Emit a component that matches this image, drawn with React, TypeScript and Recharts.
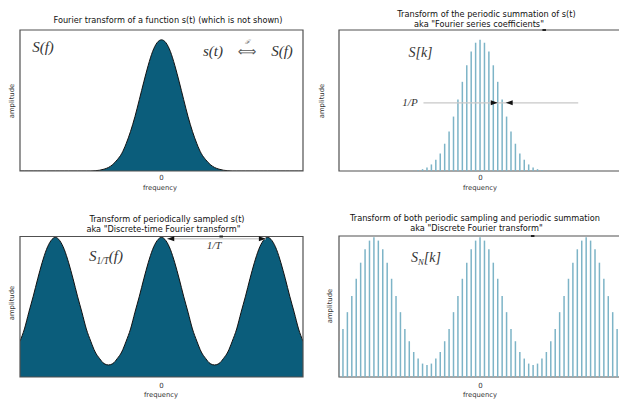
import React from 'react'
import {
  ComposedChart,
  Area,
  Bar,
  XAxis,
  YAxis,
  ReferenceArea,
  ReferenceLine,
  ReferenceDot,
} from 'recharts'

// frequency bins (same grid for all four panels)
const freqBins = [
  -32, -31, -30, -29, -28, -27, -26, -25, -24, -23, -22, -21, -20, -19, -18, -17,
  -16, -15, -14, -13, -12, -11, -10, -9, -8, -7, -6, -5, -4, -3, -2, -1, 0, 1, 2,
  3, 4, 5, 6, 7, 8, 9, 10, 11, 12, 13, 14, 15, 16, 17, 18, 19, 20, 21, 22, 23, 24,
  25, 26, 27, 28, 29, 30, 31, 32,
]

// S(f) / S[k] amplitudes
const gaussAmp = [
  0, 0, 0, 0, 0, 0, 0, 0, 0, 0, 0, 0, 0, 0, 0, 0, 0, 0.002, 0.006, 0.014, 0.027,
  0.05, 0.086, 0.133, 0.208, 0.302, 0.415, 0.546, 0.68, 0.806, 0.912, 0.978, 1,
  0.978, 0.912, 0.806, 0.68, 0.546, 0.415, 0.302, 0.208, 0.133, 0.086, 0.05, 0.027,
  0.014, 0.006, 0.002, 0, 0, 0, 0, 0, 0, 0, 0, 0, 0, 0, 0, 0, 0, 0, 0, 0,
]

// S_1/T(f) / S_N[k] amplitudes
const periodicAmp = [
  0.256, 0.344, 0.464, 0.579, 0.703, 0.818, 0.914, 0.976, 1, 0.976, 0.914, 0.818,
  0.703, 0.579, 0.464, 0.344, 0.256, 0.179, 0.132, 0.096, 0.086, 0.096, 0.132,
  0.179, 0.256, 0.344, 0.464, 0.579, 0.703, 0.818, 0.914, 0.976, 1, 0.976, 0.914,
  0.818, 0.703, 0.579, 0.464, 0.344, 0.256, 0.179, 0.132, 0.096, 0.086, 0.096,
  0.132, 0.179, 0.256, 0.344, 0.464, 0.579, 0.703, 0.818, 0.914, 0.976, 1, 0.976,
  0.914, 0.818, 0.703, 0.579, 0.464, 0.344, 0.256,
]

const axisTicks = [0]
const DOMAIN: [number, number] = [-32, 32]

const FILL = '#0b5d7b'
const STEM = '#7db4c7'
const FRAME = '#505050'
const SANS = '"DejaVu Sans", sans-serif'
const SERIF = '"Liberation Serif", serif'

const gaussRows = freqBins.map((f, i) => ({ f, a: gaussAmp[i] }))
const periodicRows = freqBins.map((f, i) => ({ f, a: periodicAmp[i] }))

const arrowHead = (dir: 'left' | 'right') => (props: any) => {
  const { cx, cy } = props
  const back = dir === 'right' ? cx - 7 : cx + 7
  return (
    <polygon
      points={`${cx},${cy} ${back},${cy - 2.5} ${back},${cy + 2.5}`}
      fill="#111"
    />
  )
}

interface PanelProps {
  left: number
  top: number
  width: number
  height: number
  margin: { top: number; right: number; bottom: number; left: number }
  axisHeight: number
  tickGap: number
  ymax: number
  data: { f: number; a: number }[]
  children?: React.ReactNode
}

function Panel({ left, top, width, height, margin, axisHeight, tickGap, ymax, data, children }: PanelProps) {
  return (
    <div style={{ position: 'absolute', left, top }}>
      <ComposedChart width={width} height={height} data={data} margin={margin}>
        <XAxis
          dataKey="f"
          type="number"
          domain={DOMAIN}
          ticks={axisTicks}
          allowDataOverflow
          tickLine={false}
          axisLine={false}
          tickSize={tickGap}
          tickMargin={2}
          height={axisHeight}
          tick={{ fontSize: 7, fill: '#333', fontFamily: SANS }}
        />
        <XAxis
          xAxisId="top"
          orientation="top"
          dataKey="f"
          type="number"
          domain={DOMAIN}
          ticks={axisTicks}
          allowDataOverflow
          tick={false}
          axisLine={false}
          tickSize={3}
          height={0}
          stroke="#333"
        />
        <YAxis hide domain={[0, ymax]} allowDataOverflow />
        {children}
        <ReferenceArea
          x1={-32}
          x2={32}
          y1={0}
          y2={ymax}
          fill="none"
          fillOpacity={0}
          stroke={FRAME}
          strokeWidth={1.2}
          ifOverflow="visible"
        />
      </ComposedChart>
    </div>
  )
}

function Txt({
  x,
  y,
  size,
  family = SANS,
  italic = false,
  color = '#111',
  rotate = false,
  children,
}: {
  x: number
  y: number
  size: number
  family?: string
  italic?: boolean
  color?: string
  rotate?: boolean
  children: React.ReactNode
}) {
  return (
    <div
      style={{
        position: 'absolute',
        left: x,
        top: y,
        transform: `translate(-50%, -50%)${rotate ? ' rotate(-90deg)' : ''}`,
        fontSize: size,
        fontFamily: family,
        fontStyle: italic ? 'italic' : 'normal',
        color,
        whiteSpace: 'nowrap',
        lineHeight: 1,
      }}
    >
      {children}
    </div>
  )
}

const sub = { fontSize: '0.62em', verticalAlign: '-0.3em' }

export default function App() {
  return (
    <div
      style={{
        position: 'fixed',
        left: 0,
        top: 0,
        width: 619,
        height: 403,
        overflow: 'hidden',
        background: '#fff',
      }}
    >
      {/* top left: continuous transform */}
      <Panel
        left={0}
        top={0}
        width={310}
        height={200}
        margin={{ top: 30, right: 7, bottom: 0, left: 20 }}
        axisHeight={29}
        tickGap={2}
        ymax={1.075}
        data={gaussRows}
      >
        <Area
          type="monotone"
          dataKey="a"
          stroke="#111"
          strokeWidth={1}
          fill={FILL}
          fillOpacity={1}
          isAnimationActive={false}
        />
      </Panel>

      {/* top right: Fourier series coefficients */}
      <Panel
        left={310}
        top={0}
        width={312}
        height={200}
        margin={{ top: 30, right: 0, bottom: 0, left: 29 }}
        axisHeight={29}
        tickGap={2}
        ymax={1.075}
        data={gaussRows}
      >
        <Bar dataKey="a" fill={STEM} barSize={1.5} isAnimationActive={false} />
        <ReferenceLine
          segment={[{ x: -12.9, y: 0.52 }, { x: 22.1, y: 0.52 }]}
          stroke="#c8c8c8"
          strokeWidth={1.3}
          ifOverflow="visible"
        />
        <ReferenceDot x={3.9} y={0.52} shape={arrowHead('right')} ifOverflow="visible" />
        <ReferenceDot x={5.7} y={0.52} shape={arrowHead('left')} ifOverflow="visible" />
        <ReferenceLine
          segment={[{ x: 14, y: 1.075 }, { x: 14.8, y: 1.075 }]}
          stroke="#222"
          strokeWidth={2}
          ifOverflow="visible"
        />
      </Panel>

      {/* bottom left: DTFT */}
      <Panel
        left={0}
        top={200}
        width={310}
        height={203}
        margin={{ top: 36.5, right: 7, bottom: 0, left: 20 }}
        axisHeight={26}
        tickGap={4}
        ymax={1.006}
        data={periodicRows}
      >
        <Area
          type="monotone"
          dataKey="a"
          stroke="#111"
          strokeWidth={1}
          fill={FILL}
          fillOpacity={1}
          isAnimationActive={false}
        />
        <ReferenceLine
          segment={[{ x: 1.3, y: 0.99 }, { x: 23.6, y: 0.99 }]}
          stroke="#d0d0d0"
          strokeWidth={1.3}
          ifOverflow="visible"
        />
        <ReferenceDot x={1.3} y={0.99} shape={arrowHead('left')} ifOverflow="visible" />
        <ReferenceDot x={23.6} y={0.99} shape={arrowHead('right')} ifOverflow="visible" />
        <ReferenceLine
          segment={[{ x: 13.1, y: 1.006 }, { x: 13.9, y: 1.006 }]}
          stroke="#222"
          strokeWidth={2}
          ifOverflow="visible"
        />
      </Panel>

      {/* bottom right: DFT */}
      <Panel
        left={310}
        top={200}
        width={312}
        height={203}
        margin={{ top: 36, right: 0, bottom: 0, left: 29 }}
        axisHeight={26}
        tickGap={4}
        ymax={1.009}
        data={periodicRows}
      >
        <Bar dataKey="a" fill={STEM} barSize={1.5} isAnimationActive={false} />
        <ReferenceLine
          segment={[{ x: 11.4, y: 1.009 }, { x: 12.2, y: 1.009 }]}
          stroke="#222"
          strokeWidth={2}
          ifOverflow="visible"
        />
      </Panel>

      {/* titles */}
      <Txt x={168} y={20} size={8.2}>Fourier transform of a function s(t) (which is not shown)</Txt>
      <Txt x={486.5} y={14} size={8.2}>Transform of the periodic summation of s(t)</Txt>
      <Txt x={479} y={24} size={8.2}>aka "Fourier series coefficients"</Txt>
      <Txt x={167} y={219} size={8.2}>Transform of periodically sampled s(t)</Txt>
      <Txt x={163.5} y={229} size={8.2}>aka "Discrete-time Fourier transform"</Txt>
      <Txt x={475} y={217.5} size={8.2}>Transform of both periodic sampling and periodic summation</Txt>
      <Txt x={476.5} y={227.5} size={8.2}>aka "Discrete Fourier transform"</Txt>

      {/* axis labels */}
      <Txt x={160} y={188} size={6.8} color="#333">frequency</Txt>
      <Txt x={480} y={188} size={6.8} color="#333">frequency</Txt>
      <Txt x={161} y={395} size={6.8} color="#333">frequency</Txt>
      <Txt x={480} y={395} size={6.8} color="#333">frequency</Txt>
      <Txt x={11.5} y={101} size={6.8} color="#333" rotate>amplitude</Txt>
      <Txt x={322} y={101} size={6.8} color="#333" rotate>amplitude</Txt>
      <Txt x={11.5} y={303} size={6.8} color="#333" rotate>amplitude</Txt>
      <Txt x={330} y={306} size={6.8} color="#333" rotate>amplitude</Txt>

      {/* math annotations */}
      <Txt x={43} y={47} size={15} family={SERIF} italic color="#333">S(f)</Txt>
      <Txt x={213} y={51} size={15} family={SERIF} italic color="#333">s(t)</Txt>
      <Txt x={247} y={51} size={13} color="#555">⟺</Txt>
      <Txt x={247} y={42} size={6} family={SERIF} italic color="#555">ℱ</Txt>
      <Txt x={282} y={51} size={15} family={SERIF} italic color="#333">S(f)</Txt>
      <Txt x={420.5} y={53} size={14} family={SERIF} italic color="#333">S[k]</Txt>
      <Txt x={410} y={102} size={11} family={SERIF} italic color="#333">1/P</Txt>
      <Txt x={106} y={257.5} size={15} family={SERIF} italic color="#333">
        S<span style={sub}>1/T</span>(f)
      </Txt>
      <Txt x={214} y={245} size={11} family={SERIF} italic color="#333">1/T</Txt>
      <Txt x={426} y={259} size={14} family={SERIF} italic color="#333">
        S<span style={sub}>N</span>[k]
      </Txt>
    </div>
  )
}
